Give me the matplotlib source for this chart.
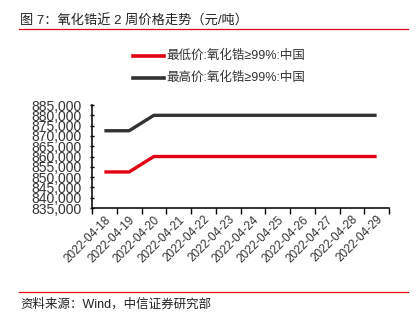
import matplotlib
matplotlib.use("Agg")
import matplotlib.pyplot as plt
from matplotlib.lines import Line2D

plt.rcParams['font.family'] = ['Liberation Sans', 'Noto Sans CJK SC', 'DejaVu Sans']

dates = ["2022-04-18", "2022-04-19", "2022-04-20", "2022-04-21", "2022-04-22",
         "2022-04-23", "2022-04-24", "2022-04-25", "2022-04-26", "2022-04-27",
         "2022-04-28", "2022-04-29"]
low_price = [852500, 852500, 860000, 860000, 860000, 860000, 860000, 860000,
             860000, 860000, 860000, 860000]
high_price = [872500, 872500, 880000, 880000, 880000, 880000, 880000, 880000,
              880000, 880000, 880000, 880000]
low_label = "最低价:氧化锆≥99%:中国"
high_label = "最高价:氧化锆≥99%:中国"
title = "图 7：氧化锆近 2 周价格走势（元/吨）"
source = "资料来源：Wind，中信证券研究部"

RED = "#E00012"
DARK = "#333333"

fig = plt.figure(figsize=(4.16, 3.25), dpi=100)
W, H = 416, 325

def fx(px):
    return px / W

def fy(py):
    return 1 - py / H

# title and rules
fig.text(fx(20), fy(21), title, fontsize=9.5, va="center", ha="left", color="#222222")
fig.add_artist(Line2D([fx(19), fx(408)], [fy(29), fy(29)], color=RED, lw=0.9))
fig.add_artist(Line2D([fx(19), fx(408)], [fy(292), fy(292)], color=RED, lw=0.9))
fig.text(fx(20), fy(304), source, fontsize=9, va="center", ha="left", color="#222222")

ax = fig.add_axes([fx(92), fy(208), fx(389) - fx(92), fy(105) - fy(208)])
x = list(range(len(dates)))
ax.plot(x, low_price, color=RED, lw=2.4, solid_capstyle="butt")
ax.plot(x, high_price, color=DARK, lw=2.4, solid_capstyle="butt")

ax.set_xlim(-0.5, len(dates) - 0.5)
ax.set_ylim(835000, 885000)
yt = list(range(835000, 885001, 5000))
ax.set_yticks(yt)
ax.set_yticklabels([f"{v:,}" for v in yt], fontsize=10, color="#333333")
ax.set_xticks([i - 0.5 for i in range(len(dates) + 1)])
ax.set_xticklabels([""] * (len(dates) + 1))
ax.set_xticks(x, minor=True)
ax.set_xticklabels(dates, minor=True, rotation=45, ha="right", va="top",
                   fontsize=8.5, color="#333333", rotation_mode="anchor")
ax.tick_params(axis="x", which="minor", length=0, pad=4)
ax.tick_params(axis="x", which="major", length=4, width=1, direction="out")
ax.tick_params(axis="y", length=3, width=1, direction="inout", pad=6)
for s in ["top", "right"]:
    ax.spines[s].set_visible(False)
for s in ["left", "bottom"]:
    ax.spines[s].set_linewidth(1.2)
    ax.spines[s].set_color("#111111")

# legend
for ypx, col, lab in [(56, RED, low_label), (78, DARK, high_label)]:
    fig.add_artist(Line2D([fx(133), fx(164)], [fy(ypx), fy(ypx)], color=col, lw=2.6))
    fig.text(fx(166), fy(ypx), lab, fontsize=9, va="center", ha="left", color="#333333")

fig.savefig("out.png", dpi=100)
